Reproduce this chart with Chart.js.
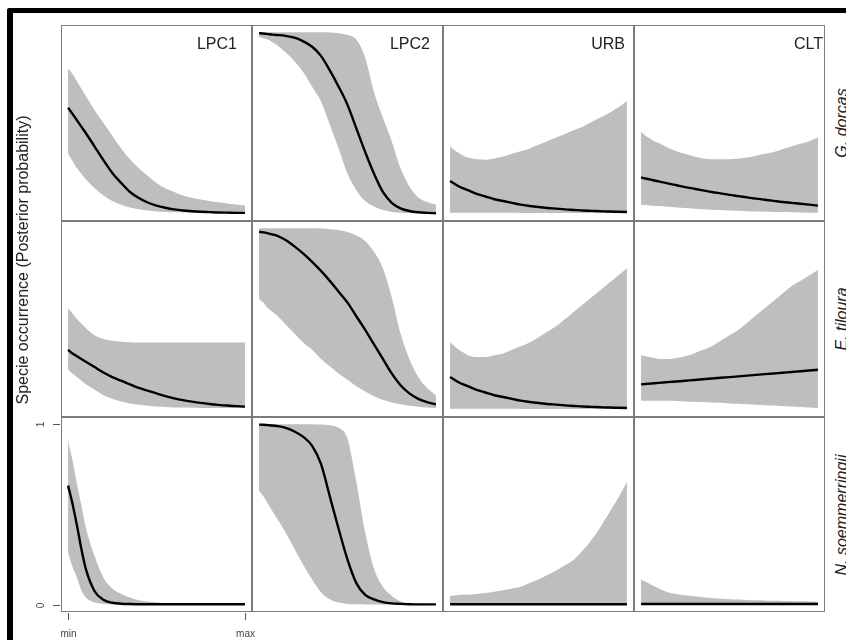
<!DOCTYPE html>
<html>
<head>
<meta charset="utf-8">
<script src="https://cdn.jsdelivr.net/npm/chart.js@4"></script>
<style>
  body { margin: 0; width: 846px; height: 640px; overflow: hidden; position: relative; background: #fff;
         font-family: "Liberation Sans", Arial, sans-serif; }
  #marco { position: absolute; left: 7px; top: 8px; width: 900px; height: 700px;
           border-top: 5px solid #000; border-left: 6px solid #000; border-top-left-radius: 3px; }
  canvas { position: absolute; }
  .strip { position: absolute; font-size: 16px; line-height: 16px; color: #222; white-space: nowrap; }
  .vertical { position: absolute; width: 360px; height: 20px; line-height: 20px; text-align: center;
              font-size: 16px; color: #222; white-space: nowrap; transform: rotate(-90deg); }
  .especie { font-style: italic; }
</style>
</head>
<body>
<div id="marco"></div>

<script>
// ==========================================
// 1. DATOS
// ==========================================
const variables = ["LPC1", "LPC2", "URB", "CLT"];
const especies = ["G. dorcas", "E. tiloura", "N. soemmerringii"];
const ticksY = [0, 1];
const ticksX = ["min", "max"];

// posiciones relativas en el gradiente (min = 0, max = 1)
const xs = [0, 0.025, 0.05, 0.075, 0.1, 0.15, 0.2, 0.25, 0.3, 0.35, 0.4, 0.45, 0.5, 0.55, 0.6, 0.65, 0.7, 0.75, 0.8, 0.85, 0.9, 0.95, 1];

// --- G. dorcas ---
const dorcasLPC1Media = [.584, .55, .515, .48, .445, .37, .295, .225, .17, .12, .087, .062, .045, .033, .024, .018, .014, .011, .009, .007, .006, .005, .005];
const dorcasLPC1Sup   = [.80, .77, .73, .69, .65, .57, .50, .43, .36, .30, .25, .21, .17, .14, .12, .10, .088, .078, .07, .063, .057, .051, .045];
const dorcasLPC1Inf   = [.33, .29, .25, .22, .19, .14, .10, .07, .05, .035, .025, .018, .013, .01, .008, .007, .006, .005, .005, .004, .004, .004, .004];

const dorcasLPC2Media = [.995, .993, .99, .987, .985, .98, .97, .95, .92, .87, .79, .70, .60, .47, .34, .22, .12, .06, .03, .015, .008, .005, .003];
const dorcasLPC2Sup   = [1, 1, 1, 1, 1, 1, 1, 1, 1, 1, .998, .995, .985, .96, .86, .67, .53, .40, .25, .15, .09, .065, .05];
const dorcasLPC2Inf   = [.975, .967, .96, .945, .93, .89, .84, .78, .70, .62, .49, .36, .22, .13, .07, .04, .02, .01, .006, .004, .003, .003, .003];

const dorcasURBMedia  = [.18, .165, .15, .14, .13, .11, .095, .08, .07, .06, .05, .043, .037, .032, .028, .024, .021, .018, .016, .014, .012, .011, .01];
const dorcasURBSup    = [.37, .35, .335, .32, .31, .30, .298, .305, .315, .33, .345, .36, .38, .40, .42, .44, .46, .48, .505, .53, .555, .585, .62];
const dorcasURBInf    = [.006, .006, .006, .006, .005, .005, .005, .005, .005, .005, .004, .004, .004, .004, .004, .004, .004, .004, .004, .004, .004, .004, .004];

const dorcasCLTMedia  = [.20, .194, .189, .183, .178, .167, .157, .147, .138, .129, .12, .112, .104, .097, .09, .083, .077, .071, .065, .06, .055, .05, .045];
const dorcasCLTSup    = [.45, .43, .415, .40, .39, .365, .345, .33, .315, .305, .30, .30, .30, .305, .31, .32, .33, .34, .355, .37, .385, .40, .42];
const dorcasCLTInf    = [.05, .048, .046, .044, .042, .038, .035, .031, .028, .025, .022, .02, .018, .016, .014, .012, .011, .01, .009, .008, .007, .006, .005];

// --- E. tiloura ---
const tilouraLPC1Media = [.33, .31, .295, .28, .265, .235, .205, .18, .16, .14, .12, .105, .09, .075, .063, .053, .045, .038, .032, .027, .023, .02, .017];
const tilouraLPC1Sup   = [.56, .53, .50, .475, .45, .41, .39, .38, .375, .372, .37, .37, .37, .37, .37, .37, .37, .37, .37, .37, .37, .37, .37];
const tilouraLPC1Inf   = [.22, .20, .18, .16, .14, .11, .08, .06, .045, .035, .028, .022, .018, .015, .013, .012, .011, .01, .01, .01, .01, .01, .01];

const tilouraLPC2Media = [.98, .977, .972, .966, .96, .935, .90, .86, .815, .765, .71, .65, .59, .515, .44, .36, .28, .20, .135, .09, .06, .042, .03];
const tilouraLPC2Sup   = [1, 1, 1, 1, 1, 1, 1, 1, 1, .998, .995, .99, .98, .96, .93, .87, .78, .62, .42, .28, .18, .12, .08];
const tilouraLPC2Inf   = [.61, .59, .56, .54, .52, .47, .42, .37, .33, .28, .24, .20, .165, .13, .10, .075, .055, .04, .03, .022, .016, .012, .01];

const tilouraURBMedia  = [.18, .165, .15, .14, .13, .11, .095, .08, .07, .06, .05, .043, .037, .032, .028, .024, .021, .018, .016, .014, .012, .011, .01];
const tilouraURBSup    = [.37, .35, .33, .315, .30, .29, .29, .30, .31, .33, .35, .37, .40, .43, .46, .50, .54, .58, .62, .66, .70, .74, .78];
const tilouraURBInf    = [.006, .006, .006, .006, .005, .005, .005, .005, .005, .005, .004, .004, .004, .004, .004, .004, .004, .004, .004, .004, .004, .004, .004];

const tilouraCLTMedia  = [.14, .142, .144, .146, .148, .152, .156, .16, .164, .168, .172, .176, .18, .184, .188, .192, .196, .20, .204, .208, .212, .216, .22];
const tilouraCLTSup    = [.30, .295, .29, .285, .28, .28, .285, .295, .31, .33, .35, .38, .41, .44, .48, .52, .56, .60, .64, .68, .71, .74, .77];
const tilouraCLTInf    = [.05, .05, .05, .05, .05, .049, .048, .046, .044, .042, .04, .038, .035, .033, .03, .028, .025, .023, .02, .018, .015, .012, .01];

// --- N. soemmerringii ---
const soemLPC1Media = [.66, .56, .44, .31, .20, .075, .028, .011, .006, .004, .003, .003, .003, .003, .003, .003, .003, .003, .003, .003, .003, .003, .003];
const soemLPC1Sup   = [.91, .80, .67, .55, .43, .27, .15, .09, .06, .04, .025, .018, .013, .01, .008, .007, .006, .006, .005, .005, .005, .005, .005];
const soemLPC1Inf   = [.29, .21, .15, .08, .04, .012, .005, .003, .002, .002, .002, .002, .002, .002, .002, .002, .002, .002, .002, .002, .002, .002, .002];

const soemLPC2Media = [.998, .997, .995, .993, .99, .98, .96, .93, .88, .78, .60, .42, .25, .12, .055, .03, .015, .008, .005, .003, .002, .002, .002];
const soemLPC2Sup   = [1, 1, 1, 1, 1, 1, 1, 1, 1, .998, .995, .98, .92, .68, .40, .20, .10, .05, .02, .01, .006, .004, .003];
const soemLPC2Inf   = [.63, .60, .56, .52, .48, .40, .31, .22, .14, .07, .03, .012, .005, .003, .002, .002, .002, .002, .002, .002, .002, .002, .002];

const soemURBMedia  = [.003, .003, .003, .003, .003, .003, .003, .003, .003, .003, .003, .003, .003, .003, .003, .003, .003, .003, .003, .003, .003, .003, .003];
const soemURBSup    = [.05, .052, .054, .055, .056, .06, .065, .072, .08, .09, .10, .12, .14, .165, .19, .22, .25, .30, .36, .43, .51, .59, .68];
const soemURBInf    = [.001, .001, .001, .001, .001, .001, .001, .001, .001, .001, .001, .001, .001, .001, .001, .001, .001, .001, .001, .001, .001, .001, .001];

const soemCLTMedia  = [.004, .004, .004, .004, .004, .004, .004, .004, .004, .004, .004, .004, .004, .004, .004, .004, .004, .004, .004, .004, .004, .004, .004];
const soemCLTSup    = [.14, .127, .115, .102, .09, .07, .06, .053, .047, .042, .037, .034, .031, .029, .027, .025, .024, .022, .021, .02, .019, .018, .017];
const soemCLTInf    = [.001, .001, .001, .001, .001, .001, .001, .001, .001, .001, .001, .001, .001, .001, .001, .001, .001, .001, .001, .001, .001, .001, .001];

// tabla de paneles: fila = especie, columna = variable
const paneles = [
  [[dorcasLPC1Media, dorcasLPC1Sup, dorcasLPC1Inf], [dorcasLPC2Media, dorcasLPC2Sup, dorcasLPC2Inf],
   [dorcasURBMedia, dorcasURBSup, dorcasURBInf], [dorcasCLTMedia, dorcasCLTSup, dorcasCLTInf]],
  [[tilouraLPC1Media, tilouraLPC1Sup, tilouraLPC1Inf], [tilouraLPC2Media, tilouraLPC2Sup, tilouraLPC2Inf],
   [tilouraURBMedia, tilouraURBSup, tilouraURBInf], [tilouraCLTMedia, tilouraCLTSup, tilouraCLTInf]],
  [[soemLPC1Media, soemLPC1Sup, soemLPC1Inf], [soemLPC2Media, soemLPC2Sup, soemLPC2Inf],
   [soemURBMedia, soemURBSup, soemURBInf], [soemCLTMedia, soemCLTSup, soemCLTInf]]
];

// ==========================================
// 2. GEOMETRÍA DE LA CUADRÍCULA
// ==========================================
const columnasX = [61, 252, 443, 634];
const filasY = [25, 221, 417];
const anchoPanel = 191;
const altosPanel = [196, 196, 195];
const margenEjeY = 61;   // espacio para ticks del eje y en el panel inferior izquierdo
const margenEjeX = 28;   // espacio para ticks del eje x
const margenDerecho = 24; // para que "max" no se corte
const bordeDerechoStrip = [237, 430, 625, 823];

Chart.defaults.font.family = '"Liberation Sans", Arial, sans-serif';

const puntos = arr => arr.map((v, i) => ({ x: xs[i], y: v }));

// borde gris de cada panel
const bordePanel = {
  id: 'bordePanel',
  afterDraw(chart) {
    const { ctx, chartArea: a } = chart;
    ctx.save();
    ctx.strokeStyle = '#7c7c7c';
    ctx.lineWidth = 1;
    ctx.strokeRect(a.left + 0.5, a.top + 0.5, a.right - a.left - 1, a.bottom - a.top - 1);
    ctx.restore();
  }
};

// ticks y etiquetas del panel inferior izquierdo (estilo R, etiquetas paralelas al eje)
const ejesR = {
  id: 'ejesR',
  afterDraw(chart) {
    const { ctx, chartArea: a, scales } = chart;
    ctx.save();
    ctx.strokeStyle = '#555';
    ctx.fillStyle = '#444';
    ctx.lineWidth = 1;
    ctx.font = '10px "Liberation Sans", Arial, sans-serif';
    ctx.textAlign = 'center';
    ctx.textBaseline = 'middle';
    ticksY.forEach(v => {
      const y = Math.round(scales.y.getPixelForValue(v)) + 0.5;
      ctx.beginPath();
      ctx.moveTo(a.left - 8, y);
      ctx.lineTo(a.left - 1, y);
      ctx.stroke();
      ctx.save();
      ctx.translate(a.left - 20, y);
      ctx.rotate(-Math.PI / 2);
      ctx.fillText(String(v), 0, 0);
      ctx.restore();
    });
    ticksX.forEach((t, i) => {
      const x = Math.round(scales.x.getPixelForValue(i)) + 0.5;
      ctx.beginPath();
      ctx.moveTo(x, a.bottom + 1);
      ctx.lineTo(x, a.bottom + 8);
      ctx.stroke();
      ctx.fillText(t, x, a.bottom + 22);
    });
    ctx.restore();
  }
};

// ==========================================
// 3. CREACIÓN DE LOS 12 PANELES
// ==========================================
function crearPanel(fila, col) {
  const [media, sup, inf] = paneles[fila][col];
  const esquina = (fila === 2 && col === 0);
  const canvas = document.createElement('canvas');
  const izq = esquina ? columnasX[col] - margenEjeY : columnasX[col];
  canvas.width = anchoPanel + (esquina ? margenEjeY + margenDerecho : 0);
  canvas.height = altosPanel[fila] + (esquina ? margenEjeX : 0);
  canvas.style.left = izq + 'px';
  canvas.style.top = filasY[fila] + 'px';
  document.body.appendChild(canvas);

  new Chart(canvas.getContext('2d'), {
    type: 'line',
    data: {
      datasets: [
        { label: 'media', data: puntos(media), borderColor: '#000', borderWidth: 2.4,
          pointRadius: 0, fill: false, cubicInterpolationMode: 'monotone' },
        { label: 'sup', data: puntos(sup), borderWidth: 0, borderColor: 'rgba(0,0,0,0)',
          backgroundColor: '#bebebe', pointRadius: 0, fill: '+1', cubicInterpolationMode: 'monotone' },
        { label: 'inf', data: puntos(inf), borderWidth: 0, borderColor: 'rgba(0,0,0,0)',
          pointRadius: 0, fill: false, cubicInterpolationMode: 'monotone' }
      ]
    },
    options: {
      responsive: false,
      animation: false,
      events: [],
      layout: { padding: esquina ? { left: margenEjeY, bottom: margenEjeX, top: 0, right: margenDerecho } : 0 },
      plugins: { legend: { display: false }, tooltip: { enabled: false } },
      scales: {
        x: { type: 'linear', min: -0.04, max: 1.04, display: false },
        y: { min: -0.04, max: 1.04, display: false }
      }
    },
    plugins: esquina ? [bordePanel, ejesR] : [bordePanel]
  });
}

for (let f = 0; f < especies.length; f++) {
  for (let c = 0; c < variables.length; c++) crearPanel(f, c);
}

// ==========================================
// 4. TEXTOS: variables, especies y título del eje
// ==========================================
variables.forEach((v, i) => {
  const d = document.createElement('div');
  d.className = 'strip';
  d.textContent = v;
  d.style.right = (846 - bordeDerechoStrip[i]) + 'px';
  d.style.top = '36px';
  document.body.appendChild(d);
});

especies.forEach((e, i) => {
  const d = document.createElement('div');
  d.className = 'vertical especie';
  d.textContent = e;
  const centroY = filasY[i] + altosPanel[i] / 2;
  d.style.left = (842 - 180) + 'px';
  d.style.top = (centroY - 10) + 'px';
  document.body.appendChild(d);
});

const titulo = document.createElement('div');
titulo.className = 'vertical';
titulo.textContent = 'Specie occurrence (Posterior probability)';
titulo.style.left = (23 - 180) + 'px';
titulo.style.top = (260 - 10) + 'px';
document.body.appendChild(titulo);
</script>
</body>
</html>
